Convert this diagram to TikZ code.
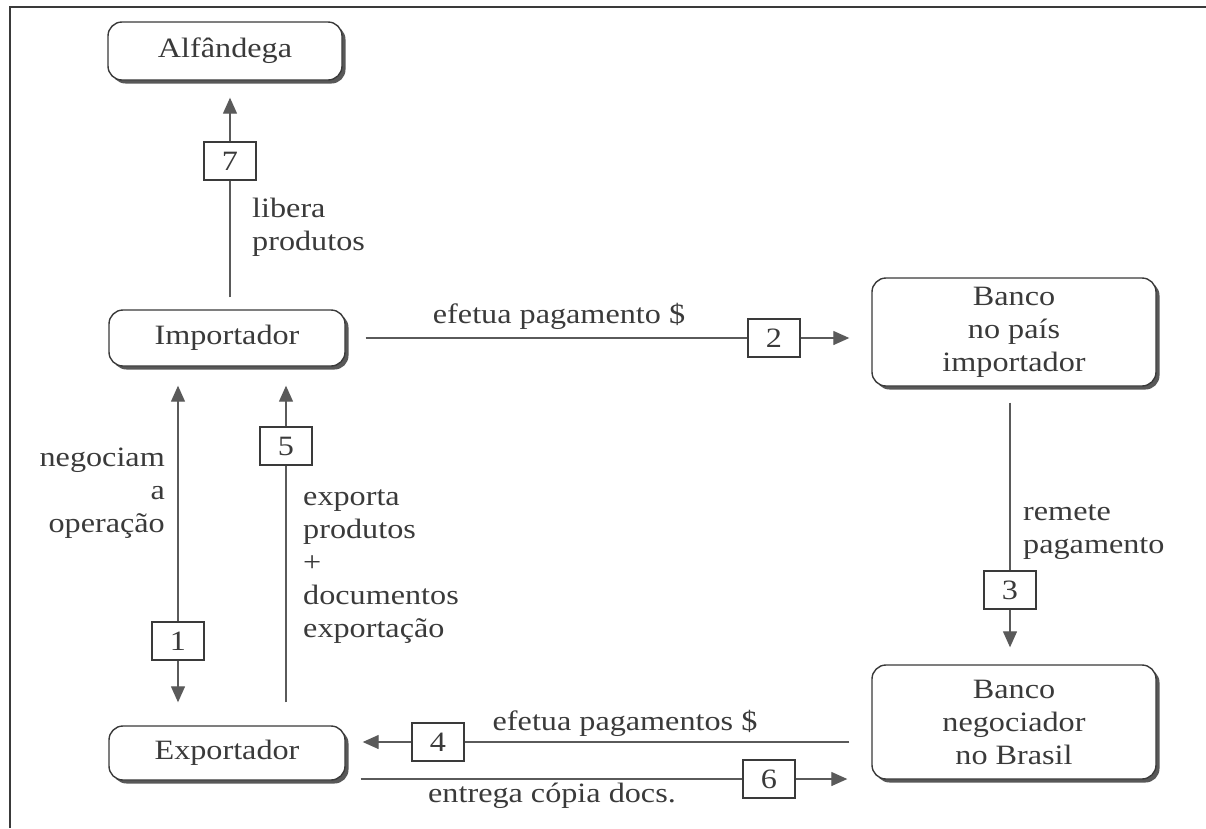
\documentclass[tikz,border=0pt]{standalone}
\usepackage{fontspec}
\setmainfont{Liberation Serif}[FakeStretch=1.15]
\usetikzlibrary{arrows.meta,shadows,calc}
\definecolor{ink}{HTML}{3A3A3A}
\definecolor{linec}{HTML}{5A5A5A}
\begin{document}
\begin{tikzpicture}[x=1pt,y=-1pt,
  every node/.style={text=ink, font=\fontsize{28}{33}\selectfont},
  ent/.style={draw=ink, line width=1.4pt, rounded corners=14pt, fill=white, align=center,
    drop shadow={shadow xshift=3.5pt, shadow yshift=-3.5pt, fill=ink!85, opacity=1}},
  num/.style={draw=ink, line width=1.1pt, fill=white, minimum width=52pt, minimum height=38pt, inner sep=0pt},
  ln/.style={draw=linec, line width=1.3pt},
  arr/.style={ln, -{Triangle[length=16pt,width=14pt]}},
  lbl/.style={inner sep=0pt, align=left}
]
\useasboundingbox (0,0) rectangle (1206,828);
\draw[line width=1.3pt, draw=ink] (10,828) -- (10,7) -- (1206,7);

\node[ent, minimum width=234pt, minimum height=58pt] (alf) at (225,51) {Alfândega};
\node[ent, minimum width=236pt, minimum height=56pt] (imp) at (227,338) {Importador};
\node[ent, minimum width=236pt, minimum height=54pt] (exp) at (227,753) {Exportador};
\node[ent, minimum width=284pt, minimum height=108pt] (bpi) at (1014,332) {Banco\\no país\\importador};
\node[ent, minimum width=284pt, minimum height=114pt] (bnb) at (1014,722) {Banco\\negociador\\no Brasil};

\node[num] (n7) at (230,161) {7};
\node[num] (n1) at (178,641) {1};
\node[num] (n5) at (286,446) {5};
\node[num] (n2) at (774,338) {2};
\node[num] (n3) at (1010,590) {3};
\node[num] (n4) at (438,742) {4};
\node[num] (n6) at (769,779) {6};

\draw[ln, shorten <=12pt] (imp.north -| n7) -- (n7.south);
\draw[arr, shorten >=17pt] (n7.north) -- (alf.south -| n7);
\draw[arr, shorten >=19pt] (n1.north) -- (imp.south -| n1);
\draw[arr, shorten >=23pt] (n1.south) -- (exp.north -| n1);
\draw[ln, shorten <=23pt] (exp.north -| n5) -- (n5.south);
\draw[arr, shorten >=19pt] (n5.north) -- (imp.south -| n5);
\draw[ln, shorten <=20pt] (imp.east |- n2) -- (n2.west);
\draw[arr, shorten >=22pt] (n2.east) -- (bpi.west |- n2);
\draw[ln, shorten <=16pt] (bpi.south -| n3) -- (n3.north);
\draw[arr, shorten >=17pt] (n3.south) -- (bnb.north -| n3);
\draw[ln, shorten <=22pt] (bnb.west |- n4) -- (n4.east);
\draw[arr, shorten >=17pt] (n4.west) -- (exp.east |- n4);
\draw[ln, shorten <=15pt] (exp.east |- n6) -- (n6.west);
\draw[arr, shorten >=24pt] (n6.east) -- (bnb.west |- n6);

\node[lbl, anchor=west] (l7) at (252,227) {libera\\produtos};
\node[lbl, align=right, anchor=east] (l1) at (165,493) {negociam\\a\\operação};
\node[lbl, anchor=west] (l5) at (303,567) {exporta\\produtos\\+\\documentos\\exportação};
\node[lbl, anchor=base] (l2) at (559,323) {efetua pagamento \$};
\node[lbl, anchor=west] (l3) at (1023,532) {remete\\pagamento};
\node[lbl, anchor=base] (l4) at (625,730) {efetua pagamentos \$};
\node[lbl, anchor=base] (l6) at (552,802) {entrega cópia docs.};
\end{tikzpicture}
\end{document}
